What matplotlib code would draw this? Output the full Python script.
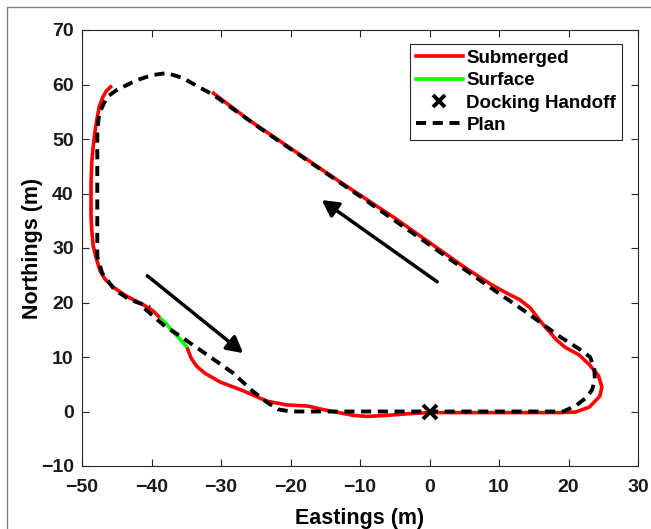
import matplotlib
matplotlib.use('Agg')
import matplotlib.pyplot as plt
from matplotlib.lines import Line2D
from matplotlib.patches import Rectangle

plt.rcParams['font.family'] = ['Liberation Sans', 'DejaVu Sans']
plt.rcParams['font.weight'] = 'bold'

# submerged track, before the surface leg (from top left, down the west side)
sub1_x = [-45.7, -46.5, -47.0, -47.5, -47.8, -48.1, -48.4, -48.6, -48.7, -48.7,
          -48.7, -48.6, -48.4, -48.0, -47.4, -46.7, -45.5, -43.5, -41.2, -39.8, -38.8]
sub1_y = [59.8, 58.8, 57.7, 56.0, 54.0, 51.7, 48.5, 45.6, 42.0, 39.4,
          36.0, 33.3, 30.5, 28.3, 25.8, 24.3, 22.8, 21.1, 19.6, 18.5, 17.2]

# surface leg
surf_x = [-38.8, -37.8, -36.9, -35.9, -34.9]
surf_y = [17.2, 16.0, 14.6, 13.3, 11.8]

# submerged track after surfacing (along the south side, round and back up the diagonal)
sub2_x = [-34.9, -34.3, -33.5, -32.3, -30.1, -26.8, -23.4, -20.5, -17.5, -15.5,
          -13.5, -11.0, -9.0, -6.0, -3.0, 0.0, 5.0, 10.0, 15.0, 19.0,
          21.0, 23.0, 24.5, 24.8, 24.3, 23.0, 21.5, 19.5, 18.3, 17.0,
          16.0, 14.5, 13.0, 11.0, 9.0, 5.0, 0.0, -5.0, -13.3, -20.0,
          -26.0, -31.3]
sub2_y = [11.8, 9.8, 8.3, 7.0, 5.4, 3.8, 1.9, 1.2, 1.0, 0.4,
          -0.1, -0.7, -0.9, -0.7, -0.4, -0.2, -0.2, -0.2, -0.2, -0.2,
          -0.1, 0.8, 2.8, 4.5, 6.6, 8.6, 10.4, 11.8, 13.1, 15.0,
          16.5, 19.0, 20.5, 21.8, 23.2, 26.5, 31.0, 35.5, 42.5, 48.3,
          53.5, 58.6]

# planned path
plan_x = [-41.0, -38.3, -35.5, -32.0, -28.3, -25.5, -23.5, -21.8, -20.0, 0.0,
          19.2, 21.0, 22.7, 23.4, 23.8, 23.7, 23.1, 21.5, 18.8, 13.5,
          8.7, 1.1, -10.0, -24.4, -31.1, -33.0, -35.5, -37.8, -40.0, -42.1,
          -45.0, -46.4, -47.5, -47.8, -47.8, -47.8, -47.1, -45.3, -43.1, -40.2]
plan_y = [18.9, 15.9, 13.5, 10.4, 7.1, 3.8, 1.8, 0.4, 0.0, 0.0,
          0.0, 1.0, 2.7, 4.0, 5.8, 8.0, 10.0, 11.5, 13.7, 18.6,
          22.8, 29.6, 39.5, 52.0, 58.1, 59.4, 61.2, 62.1, 61.7, 60.8,
          59.0, 57.7, 54.8, 51.7, 33.9, 28.4, 25.4, 22.3, 20.5, 19.2]

dock_x = [0.0]
dock_y = [0.0]

# direction arrows (tail, head)
arrow1 = [(1.1, 23.8), (-15.5, 38.8)]
arrow2 = [(-40.6, 24.9), (-26.8, 10.7)]

fig = plt.figure(figsize=(6.51, 5.29), dpi=100)
ax = fig.add_axes([82 / 651, 1 - 466 / 529, 556 / 651, 436 / 529])

red = '#ff0000'
green = '#00ff00'
ax.plot(sub1_x, sub1_y, color=red, lw=2.6, solid_capstyle='butt')
ax.plot(sub2_x, sub2_y, color=red, lw=2.6, solid_capstyle='butt')
ax.plot(surf_x, surf_y, color=green, lw=2.6, solid_capstyle='butt')
ax.plot(plan_x, plan_y, color='k', lw=2.8, dashes=(2.6, 1.7))
ax.plot(dock_x, dock_y, 'x', color='k', ms=10, mew=2.8)

for tail, head in (arrow1, arrow2):
    ax.annotate('', xy=head, xytext=tail,
                arrowprops=dict(arrowstyle='-|>,head_length=0.65,head_width=0.35',
                                lw=2.5, color='k', mutation_scale=15,
                                shrinkA=0, shrinkB=0))

ax.set_xlim(-50, 30)
ax.set_ylim(-10, 70)
ax.set_xticks(range(-50, 31, 10))
ax.set_yticks(range(-10, 71, 10))
ax.tick_params(direction='in', length=5, width=0.8, top=True, right=True,
               labelsize=14, colors='#262626', labelcolor='#1a1a1a')
ax.tick_params(axis='x', pad=9)
ax.tick_params(axis='y', pad=6)
for sp in ax.spines.values():
    sp.set_color('#262626')
    sp.set_linewidth(0.8)

ax.set_xlabel('Eastings (m)', fontsize=15.5, fontweight='bold', labelpad=9)
ax.set_ylabel('Northings (m)', fontsize=15.5, fontweight='bold', labelpad=-2)

handles = [
    Line2D([], [], color=red, lw=2.6),
    Line2D([], [], color=green, lw=2.6),
    Line2D([], [], ls='none', marker='x', color='k', ms=9, mew=2.8),
    Line2D([], [], color='k', lw=2.8, dashes=(2.6, 1.7)),
]
labels = ['Submerged', 'Surface', 'Docking Handoff', 'Plan']
leg = ax.legend(handles, labels, loc='upper right',
                bbox_to_anchor=((622 - 82) / 556, (466 - 44) / 436),
                borderaxespad=0, fontsize=13.5, handlelength=2.5,
                handletextpad=0.2, labelspacing=0.28, borderpad=0.3,
                fancybox=False, framealpha=1, edgecolor='#262626')
leg.get_frame().set_linewidth(0.8)

# outer figure frame
fig.add_artist(Rectangle((7 / 651, -0.5), 2, 0.5 + 1 - 7 / 529,
                         transform=fig.transFigure, fill=False,
                         edgecolor='#808080', lw=1))

fig.savefig('out.png', dpi=100)
